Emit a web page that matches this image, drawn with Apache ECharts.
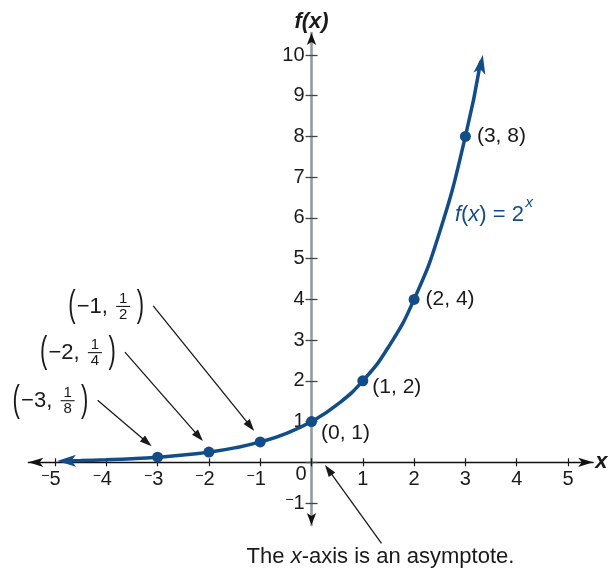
<!DOCTYPE html>
<html>
<head>
<meta charset="utf-8">
<script src="https://cdn.jsdelivr.net/npm/echarts@6/dist/echarts.min.js"></script>
<style>
  html, body { margin: 0; padding: 0; background: #ffffff; }
  #chart { width: 610px; height: 571px; }
</style>
</head>
<body>
<div id="chart"></div>
<script>
const curveX = [-4.8, -4.5, -4, -3.5, -3, -2.5, -2, -1.5, -1, -0.5, 0, 0.5, 1, 1.5, 2, 2.5, 3, 3.3];
const curveY = [0.036, 0.044, 0.0625, 0.088, 0.125, 0.177, 0.25, 0.354, 0.5, 0.707, 1, 1.414, 2, 2.83, 4, 5.66, 8, 9.85];

// Arrow tips at both ends of the curve
const arrowTipX = [-4.96, 3.34];
const arrowTipY = [0.032, 10];

// Highlighted points on the curve
const pointX = [-3, -2, -1, 0, 1, 2, 3];
const pointY = [0.125, 0.25, 0.5, 1, 2, 4, 8];

// Tick ranges (step 1)
const xTickRange = [-5, 5];
const yTickRange = [-1, 10];

// Texts
const xAxisTitle = 'x';
const yAxisTitle = 'f(x)';
const asymptoteNote = ['The ', 'x', '-axis is an asymptote.'];

// ---- styling / layout ----
const FONT = '"Liberation Sans", Arial, Helvetica, sans-serif';
const BLUE = '#124d88';
const INK = '#1a1a1a';
const ORIGIN = [311.5, 462.3];     // pixel of (0, 0)
const UNIT = [51.3, 40.73];        // pixels per unit on x / y
const frameX = [-5.52, 5.49];      // axis-line extents (arrow tips)
const frameY = [-1.54, 10.54];

function rect(x0, x1, y0, y1) {
  return {
    left: ORIGIN[0] + x0 * UNIT[0],
    top: ORIGIN[1] - y1 * UNIT[1],
    width: (x1 - x0) * UNIT[0],
    height: (y1 - y0) * UNIT[1],
    containLabel: false,
    outerBoundsMode: 'none'
  };
}

const hidden = { show: false };
const noLine = { show: false, onZero: false };
const tickX = { show: true, length: 4, lineStyle: { color: INK, width: 1.2 } };
const tickY = { show: true, length: 6, lineStyle: { color: '#444444', width: 1.3 } };

const xLabelRich = {
  m: { fontSize: 14, lineHeight: 12, verticalAlign: 'top', fontFamily: FONT, color: INK },
  d: { fontSize: 20, fontFamily: FONT, color: INK, padding: [0, 8, 0, 0] },
  p: { fontSize: 20, fontFamily: FONT, color: INK }
};
const yLabelRich = {
  m: { fontSize: 14, lineHeight: 12, verticalAlign: 'top', fontFamily: FONT, color: INK },
  p: { fontSize: 20, fontFamily: FONT, color: INK }
};

function hiddenAxis(grid, range) {
  return { gridIndex: grid, type: 'value', min: range[0], max: range[1], show: false };
}

const option = {
  animation: false,
  backgroundColor: '#ffffff',
  grid: [
    rect(frameX[0], frameX[1], frameY[0], frameY[1]),        // 0: axis lines
    rect(xTickRange[0], xTickRange[1], 0, yTickRange[1]),    // 1: plot, x ticks below zero line
    rect(xTickRange[0], xTickRange[1], yTickRange[0], 0),    // 2: x ticks above zero line
    rect(0, xTickRange[1], yTickRange[0], yTickRange[1]),    // 3: y ticks left of zero line
    rect(xTickRange[0], 0, yTickRange[0], yTickRange[1]),    // 4: y ticks right of zero line
    rect(frameX[0], frameX[1], frameY[0], frameY[1])         // 5: arrow heads of the vertical axis
  ],
  xAxis: [
    {
      gridIndex: 0, type: 'value', min: frameX[0], max: frameX[1],
      axisLine: { show: true, onZero: true, lineStyle: { color: '#111111', width: 1.3 },
                  symbol: ['arrow', 'arrow'], symbolSize: [7, 15] },
      axisTick: hidden, axisLabel: hidden, splitLine: hidden,
      name: xAxisTitle, nameLocation: 'end', nameGap: 2, nameMoveOverlap: false,
      nameTextStyle: { fontFamily: FONT, fontSize: 22, fontStyle: 'italic', fontWeight: 'bold', color: INK,
                       align: 'left', verticalAlign: 'middle' }
    },
    {
      gridIndex: 1, type: 'value', position: 'bottom', min: xTickRange[0], max: xTickRange[1], interval: 1,
      axisLine: noLine, axisTick: tickX, splitLine: hidden,
      axisLabel: {
        show: true, margin: 7, hideOverlap: false, showMinLabel: true, showMaxLabel: true,
        formatter: v => v === 0 ? '' : (v < 0 ? '{m|\u2212}{d|' + (-v) + '}' : '{p|' + v + '}'),
        rich: xLabelRich
      }
    },
    {
      gridIndex: 2, type: 'value', position: 'top', min: xTickRange[0], max: xTickRange[1], interval: 1,
      axisLine: noLine, axisTick: tickX, axisLabel: hidden, splitLine: hidden
    },
    hiddenAxis(3, [0, xTickRange[1]]),
    hiddenAxis(4, [xTickRange[0], 0]),
    hiddenAxis(5, frameX)
  ],
  yAxis: [
    {
      gridIndex: 0, type: 'value', min: frameY[0], max: frameY[1],
      axisLine: { show: true, onZero: true, lineStyle: { color: '#969a9e', width: 2.6 } },
      axisTick: hidden, axisLabel: hidden, splitLine: hidden,
      name: yAxisTitle, nameLocation: 'end', nameGap: 0, nameMoveOverlap: false,
      nameTextStyle: { fontFamily: FONT, fontSize: 22, fontStyle: 'italic', fontWeight: 'bold', color: INK,
                       align: 'center', verticalAlign: 'bottom' }
    },
    hiddenAxis(1, [0, yTickRange[1]]),
    hiddenAxis(2, [yTickRange[0], 0]),
    {
      gridIndex: 3, type: 'value', position: 'left', min: yTickRange[0], max: yTickRange[1], interval: 1,
      axisLine: noLine, axisTick: tickY, splitLine: hidden,
      axisLabel: {
        show: true, margin: 7, hideOverlap: false, showMinLabel: true, showMaxLabel: true,
        formatter: v => v === 0 ? '' : (v < 0 ? '{m|\u2212}{p|' + (-v) + '}' : '{p|' + v + '}'),
        rich: yLabelRich
      }
    },
    {
      gridIndex: 4, type: 'value', position: 'right', min: yTickRange[0], max: yTickRange[1], interval: 1,
      axisLine: noLine, axisTick: tickY, axisLabel: hidden, splitLine: hidden
    },
    {
      gridIndex: 5, type: 'value', min: frameY[0], max: frameY[1],
      axisLine: { show: true, onZero: true, lineStyle: { color: '#111111', width: 0 },
                  symbol: ['arrow', 'arrow'], symbolSize: [7, 12] },
      axisTick: hidden, axisLabel: hidden, splitLine: hidden
    }
  ],
  series: [
    {
      type: 'line', xAxisIndex: 1, yAxisIndex: 1,
      data: curveX.map((x, i) => [x, curveY[i]]),
      smooth: 0.5, symbol: 'none', showSymbol: false, clip: false, silent: true,
      lineStyle: { color: BLUE, width: 3.5 }, z: 3
    },
    {
      type: 'scatter', xAxisIndex: 1, yAxisIndex: 1, clip: false, silent: true,
      symbol: 'arrow', symbolSize: [9, 19], itemStyle: { color: BLUE, opacity: 1 }, z: 4,
      data: [
        { value: [arrowTipX[0], arrowTipY[0]], symbolRotate: 91 },
        { value: [arrowTipX[1], arrowTipY[1]], symbolRotate: -10.5 }
      ]
    },
    {
      type: 'scatter', xAxisIndex: 1, yAxisIndex: 1, clip: false, silent: true,
      symbol: 'circle', symbolSize: 11, itemStyle: { color: BLUE, opacity: 1 }, z: 5,
      data: pointX.map((x, i) => {
        const offsets = { 0: [-2, 12], 1: [-2, 6.5] };
        return {
          value: [x, pointY[i]],
          label: {
            show: x >= 0, position: 'right', distance: 6,
            offset: offsets[x] || [0, 0],
            formatter: p => '(' + p.value[0] + ', ' + p.value[1] + ')',
            fontFamily: FONT, fontSize: 21, color: INK
          }
        };
      })
    }
  ]
};

const chart = echarts.init(document.getElementById('chart'), null, { renderer: 'canvas' });
chart.setOption(option);

// ---- annotations placed relative to the plotted points ----
const toPx = (x, y) => chart.convertToPixel({ seriesIndex: 2 }, [x, y]);
const gfx = [];
function txt(x, y, text, size, align, scaleY) {
  return {
    type: 'text', x: x, y: y, z: 100, silent: true, scaleY: scaleY || 1,
    style: { text: text, fontFamily: FONT, fontSize: size, fill: INK,
             align: align || 'left', verticalAlign: 'middle' }
  };
}

function leader(from, tip) {
  const dx = tip[0] - from[0], dy = tip[1] - from[1];
  const len = Math.hypot(dx, dy), ux = dx / len, uy = dy / len;
  const head = 12, half = 4;
  const bx = tip[0] - ux * head, by = tip[1] - uy * head;
  gfx.push({ type: 'line', z: 100, silent: true,
             shape: { x1: from[0], y1: from[1], x2: bx + ux * 2, y2: by + uy * 2 },
             style: { stroke: INK, lineWidth: 1.3 } });
  gfx.push({ type: 'polygon', z: 100, silent: true,
             shape: { points: [tip, [bx - uy * half, by + ux * half], [bx + uy * half, by - ux * half]] },
             style: { fill: INK } });
}

// fraction labels for the negative-x points: offset of the label's left edge from the point
const fracLayout = { '-3': [-145, -57], '-2': [-169, -100], '-1': [-192, -136] };
const leaderTip = [-6, -11];
pointX.forEach((x, i) => {
  if (x >= 0) return;
  const p = toPx(x, pointY[i]);
  const off = fracLayout[String(x)];
  const ax = p[0] + off[0], ay = p[1] + off[1];
  const denom = Math.round(1 / pointY[i]);
  gfx.push(txt(ax, ay, '(', 22, 'left', 1.7));
  gfx.push(txt(ax + 8.5, ay + 1, '\u2212' + (-x) + ',', 22));
  gfx.push(txt(ax + 55, ay - 7, '1', 15, 'center'));
  gfx.push({ type: 'line', z: 100, silent: true,
             shape: { x1: ax + 48, y1: ay + 0.5, x2: ax + 62, y2: ay + 0.5 },
             style: { stroke: INK, lineWidth: 1.1 } });
  gfx.push(txt(ax + 55, ay + 8.5, String(denom), 15, 'center'));
  gfx.push(txt(ax + 68.5, ay, ')', 22, 'left', 1.7));
  leader([ax + 85, ay], [p[0] + leaderTip[0], p[1] + leaderTip[1]]);
});

// origin label and asymptote note
const o = toPx(0, 0);
gfx.push(txt(o[0] - 10.5, o[1] + 12, '0', 20, 'center'));
leader([o[0] + 70, o[1] + 81], [o[0] + 13.5, o[1] + 2.7]);
gfx.push({
  type: 'text', x: o[0] + 69, y: o[1] + 95, z: 100, silent: true,
  style: {
    text: '{n|' + asymptoteNote[0] + '}{i|' + asymptoteNote[1] + '}{n|' + asymptoteNote[2] + '}',
    align: 'center', verticalAlign: 'middle',
    rich: {
      n: { fontFamily: FONT, fontSize: 22, fill: INK, color: INK },
      i: { fontFamily: FONT, fontSize: 22, fontStyle: 'italic', fill: INK, color: INK }
    }
  }
});

// curve name f(x) = 2^x beside the curve
const p8 = toPx(pointX[6], pointY[6]);
gfx.push({
  type: 'text', x: p8[0] - 10.5, y: p8[1] + 78, z: 100, silent: true,
  style: {
    text: '{i|f}{n|(}{i|x}{n|) = 2}',
    align: 'left', verticalAlign: 'middle',
    rich: {
      n: { fontFamily: FONT, fontSize: 22, fill: BLUE, color: BLUE },
      i: { fontFamily: FONT, fontSize: 22, fontStyle: 'italic', fill: BLUE, color: BLUE }
    }
  }
});
gfx.push({
  type: 'text', x: p8[0] + 60, y: p8[1] + 66, z: 100, silent: true,
  style: { text: 'x', fontFamily: FONT, fontSize: 15, fontStyle: 'italic', fill: BLUE,
           align: 'left', verticalAlign: 'middle' }
});

chart.setOption({ graphic: gfx });
</script>
</body>
</html>
